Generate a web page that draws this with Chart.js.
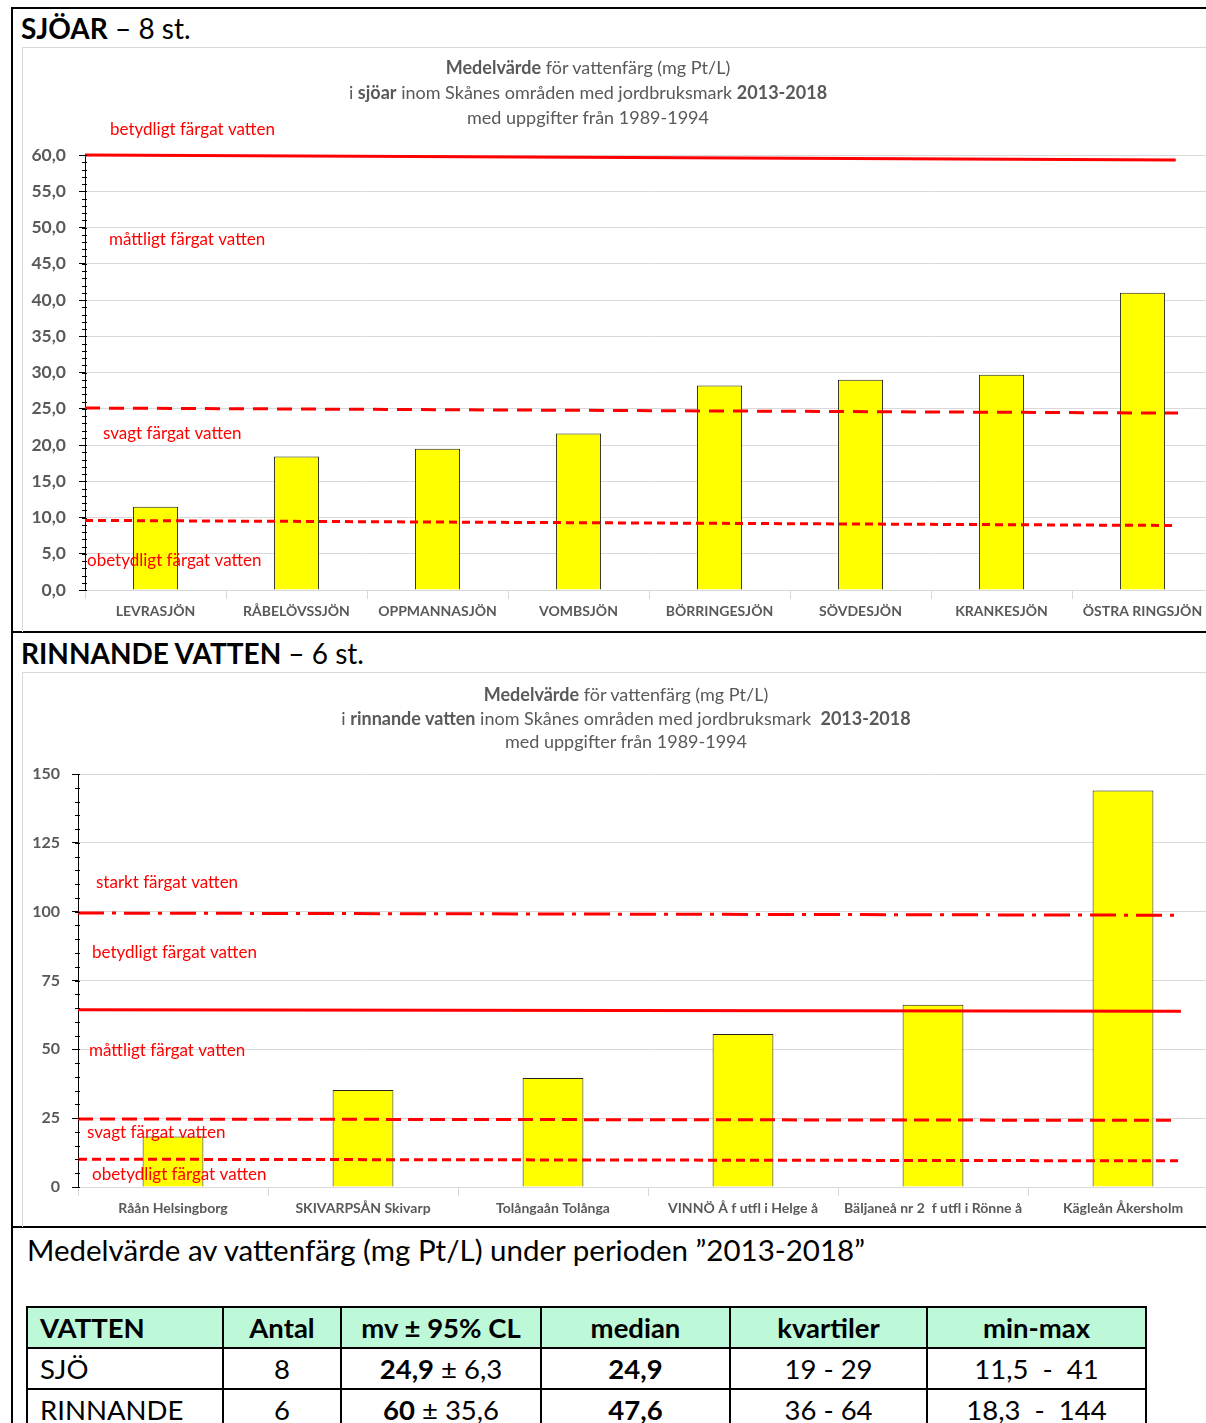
<!DOCTYPE html>
<html>
<head>
<meta charset="utf-8">
<script src="https://cdn.jsdelivr.net/npm/chart.js@4.4.0/dist/chart.umd.min.js"></script>
<style>
  html, body { margin: 0; padding: 0; overflow: hidden; background: #fff; }
  body { width: 1206px; height: 1423px; position: relative; font-family: Lato, "Open Sans", sans-serif; }
  .abs { position: absolute; }
  .black { background: #000; }
  .head { font-size: 28px; color: #000; white-space: nowrap; }
  .box { border-left: 1px solid #d9d9d9; border-top: 1px solid #d9d9d9; }
  .ctitle { text-align: center; color: #595959; font-size: 18px; white-space: nowrap; }
  table { border-collapse: collapse; font-size: 27.5px; }
  td, th { border: 2px solid #000; height: 39px; line-height: 30px; padding: 0 12px; text-align: center; white-space: pre; }
  th { background: #bdf8d9; font-weight: bold; }
  td:first-child, th:first-child { text-align: left; }
</style>
</head>
<body>

<div class="abs black" style="left:11px; top:7px; width:1195px; height:2px;"></div>
<div class="abs black" style="left:11px; top:7px; width:2px; height:1416px;"></div>
<div class="abs black" style="left:11px; top:631px; width:1195px; height:2px;"></div>
<div class="abs black" style="left:11px; top:1226px; width:1195px; height:2px;"></div>

<div class="abs head" style="left:21px; top:11px;"><b>SJÖAR</b> – 8 st.</div>
<div class="abs box" style="left:22px; top:47px; width:1200px; height:584px;">
  <canvas id="lakeChart" width="1200" height="584"></canvas>
</div>
<div class="abs ctitle" style="left:188px; top:55px; width:800px; line-height:25px;">
  <b>Medelvärde</b> för vattenfärg (mg Pt/L)<br>
  i <b>sjöar</b> inom Skånes områden med jordbruksmark <b>2013-2018</b><br>
  med uppgifter från 1989-1994
</div>

<div class="abs head" style="left:21px; top:636px;"><b>RINNANDE VATTEN</b> – 6 st.</div>
<div class="abs box" style="left:22px; top:672px; width:1205px; height:554px;">
  <canvas id="streamChart" width="1205" height="554"></canvas>
</div>
<div class="abs ctitle" style="left:226px; top:683px; width:800px; line-height:23.5px;">
  <b>Medelvärde</b> för vattenfärg (mg Pt/L)<br>
  i <b>rinnande vatten</b> inom Skånes områden med jordbruksmark&nbsp; <b>2013-2018</b><br>
  med uppgifter från 1989-1994
</div>

<div class="abs head" style="left:27px; top:1232px; font-size:29.5px;">Medelvärde av vattenfärg (mg Pt/L) under perioden ”2013-2018”</div>

<table class="abs" style="left:26px; top:1306px;">
  <tr><th style="width:170px">VATTEN</th><th style="width:92px">Antal</th><th style="width:174px">mv ± 95% CL</th><th style="width:163px">median</th><th style="width:171px">kvartiler</th><th style="width:193px">min-max</th></tr>
  <tr><td>SJÖ</td><td>8</td><td><b>24,9</b> ± 6,3</td><td><b>24,9</b></td><td>19 - 29</td><td>11,5  -  41</td></tr>
  <tr><td>RINNANDE</td><td>6</td><td><b>60</b> ± 35,6</td><td><b>47,6</b></td><td>36 - 64</td><td>18,3  -  144</td></tr>
</table>

<script>
/* data: sjöar */
const lakeNames = ["LEVRASJÖN", "RÅBELÖVSSJÖN", "OPPMANNASJÖN", "VOMBSJÖN", "BÖRRINGESJÖN", "SÖVDESJÖN", "KRANKESJÖN", "ÖSTRA RINGSJÖN"];
const lakeValues = [11.5, 18.4, 19.5, 21.6, 28.2, 29.0, 29.7, 41.0];
const lakeLimitLeft = [60, 25.1, 9.6];
const lakeLimitRight = [59.3, 24.4, 8.9];
const lakeZones = ["betydligt färgat vatten", "måttligt färgat vatten", "svagt färgat vatten", "obetydligt färgat vatten"];

/* data: rinnande vatten */
const streamNames = ["Råån Helsingborg", "SKIVARPSÅN Skivarp", "Tolångaån Tolånga", "VINNÖ Å f utfl i Helge å", "Bäljaneå nr 2  f utfl i Rönne å", "Kägleån Åkersholm"];
const streamValues = [18.3, 35.2, 39.6, 55.6, 66.2, 144.0];
const streamLimitLeft = [99.5, 64.4, 24.7, 10.1];
const streamLimitRight = [98.7, 63.8, 24.2, 9.5];
const streamZones = ["starkt färgat vatten", "betydligt färgat vatten", "måttligt färgat vatten", "svagt färgat vatten", "obetydligt färgat vatten"];

const GRAY = "#595959";
const GRID = "#d9d9d9";

// små streck på y-axeln + röda textetiketter
const extras = {
  id: "extras",
  afterDatasetsDraw(chart, args, opts) {
    const y = chart.scales.y;
    const ax = chart.chartArea.left;
    const ctx = chart.ctx;
    ctx.save();
    ctx.strokeStyle = "#000";
    ctx.lineWidth = 1;
    for (let v = y.min; v <= y.max; v += opts.minor) {
      const py = Math.round(y.getPixelForValue(v)) + 0.5;
      ctx.beginPath();
      ctx.moveTo(ax - 3, py);
      ctx.lineTo(ax + 2, py);
      ctx.stroke();
    }
    ctx.fillStyle = "#ff0000";
    ctx.font = "17px Lato";
    ctx.textBaseline = "middle";
    opts.labels.forEach((txt, i) => {
      ctx.fillText(txt, ax + opts.dx[i], y.getPixelForValue(opts.at[i]));
    });
    ctx.restore();
  }
};

function limitSets(left, right, styles) {
  return left.map((v, i) => ({
    type: "line",
    xAxisID: "x2",
    data: [{ x: 0, y: v }, { x: styles[i].end, y: right[i] }],
    borderColor: "#ff0000",
    borderWidth: 3,
    borderDash: styles[i].dash,
    pointRadius: 0,
    clip: false,
    order: 0
  }));
}

function makeChart(id, names, values, sets, yOpts, pad, axisW, axisH, extraOpts) {
  return new Chart(document.getElementById(id), {
    type: "bar",
    data: {
      labels: names,
      datasets: [{
        data: values,
        backgroundColor: "#ffff00",
        borderColor: "#222",
        borderWidth: 1,
        barPercentage: 0.32,
        categoryPercentage: 1,
        grouped: false,
        order: 1
      }].concat(sets)
    },
    options: {
      responsive: false,
      animation: false,
      layout: { padding: pad },
      plugins: { legend: { display: false }, tooltip: { enabled: false }, title: { display: false }, extras: extraOpts },
      scales: {
        x: {
          type: "category",
          grid: { drawOnChartArea: false, tickLength: 9, color: GRID, offset: true },
          border: { color: GRID },
          ticks: { color: GRAY, font: { family: "Lato", size: 14, weight: "bold" }, maxRotation: 0, autoSkip: false, padding: 4 },
          afterFit: (s) => { s.height = axisH; }
        },
        x2: { type: "linear", min: 0, max: 1, offset: false, display: false },
        y: Object.assign({
          min: 0,
          grid: { color: GRID, tickColor: "#000", tickLength: 6 },
          border: { color: "#000" },
          afterFit: (s) => { s.width = axisW; }
        }, yOpts)
      }
    },
    plugins: [extras]
  });
}

makeChart("lakeChart", lakeNames, lakeValues,
  limitSets(lakeLimitLeft, lakeLimitRight, [
    { dash: [], end: 0.967 },
    { dash: [15, 9], end: 0.969 },
    { dash: [8, 5], end: 0.965 }
  ]),
  {
    max: 60,
    ticks: { stepSize: 5, color: GRAY, padding: 13, font: { family: "Lato", size: 17.5, weight: "bold" },
      callback: (v) => v.toFixed(1).replace(".", ",") }
  },
  { top: 107, right: 10, left: 0, bottom: 0 }, 62, 42,
  { minor: 1, labels: lakeZones, at: [63.5, 48.4, 21.6, 4.0], dx: [25, 24, 18, 2] }
);

makeChart("streamChart", streamNames, streamValues,
  limitSets(streamLimitLeft, streamLimitRight, [
    { dash: [26, 8, 4, 8], end: 0.964 },
    { dash: [], end: 0.9675 },
    { dash: [15, 7], end: 0.964 },
    { dash: [9, 5], end: 0.965 }
  ]),
  {
    max: 150,
    ticks: { stepSize: 25, color: GRAY, padding: 12, font: { family: "Lato", size: 16, weight: "bold" } }
  },
  { top: 101, right: 10, left: 0, bottom: 0 }, 55, 40,
  { minor: 5, labels: streamZones, at: [110.5, 85.0, 49.4, 19.9, 4.6], dx: [18, 14, 11, 9, 14] }
);
</script>
</body>
</html>
